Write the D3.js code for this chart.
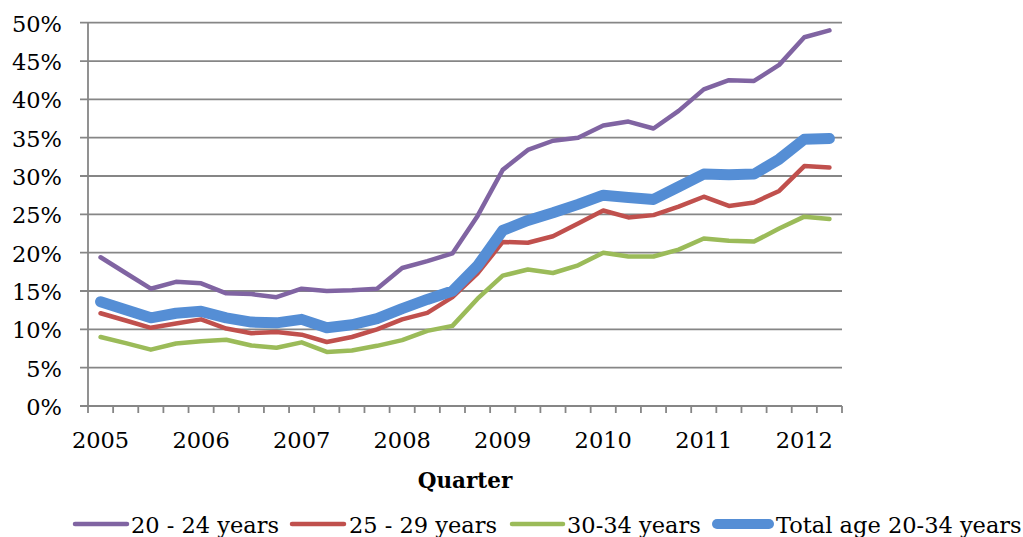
<!DOCTYPE html>
<html>
<head>
<meta charset="utf-8">
<script src="https://cdn.jsdelivr.net/npm/d3@7"></script>
<style>
  html, body { margin: 0; padding: 0; background: #fff; }
  svg { display: block; }
  text { font-family: "DejaVu Serif", "Liberation Serif", serif; fill: #000; }
</style>
</head>
<body>
<svg id="chart" width="1023" height="537"></svg>
<script>
const quarters = ["2005Q1","2005Q2","2005Q3","2005Q4","2006Q1","2006Q2","2006Q3","2006Q4",
  "2007Q1","2007Q2","2007Q3","2007Q4","2008Q1","2008Q2","2008Q3","2008Q4",
  "2009Q1","2009Q2","2009Q3","2009Q4","2010Q1","2010Q2","2010Q3","2010Q4",
  "2011Q1","2011Q2","2011Q3","2011Q4","2012Q1","2012Q2"];
const yearLabels = {"2005Q1":"2005","2006Q1":"2006","2007Q1":"2007","2008Q1":"2008",
  "2009Q1":"2009","2010Q1":"2010","2011Q1":"2011","2012Q1":"2012"};
const yTicks = [0,5,10,15,20,25,30,35,40,45,50];

const age2024 = [19.4,17.35,15.3,16.2,16.0,14.7,14.6,14.2,15.3,15.0,15.1,15.3,18.0,18.9,19.9,24.8,30.8,33.4,34.6,35.0,36.6,37.1,36.2,38.5,41.3,42.5,42.4,44.5,48.1,49.0];
const age2529 = [12.1,11.15,10.2,10.75,11.3,10.1,9.5,9.65,9.3,8.35,9.0,10.0,11.3,12.15,14.2,17.3,21.4,21.3,22.15,23.8,25.5,24.6,24.9,26.0,27.3,26.1,26.55,28.05,31.3,31.1];
const age3034 = [9.0,8.2,7.35,8.15,8.45,8.65,7.9,7.6,8.3,7.05,7.25,7.85,8.6,9.8,10.45,14.0,17.0,17.8,17.35,18.35,20.0,19.5,19.5,20.4,21.85,21.55,21.45,23.15,24.7,24.4];
const total2034 = [13.6,12.55,11.5,12.1,12.35,11.5,10.95,10.85,11.3,10.2,10.6,11.4,12.7,13.9,15.0,18.3,22.9,24.2,25.2,26.3,27.5,27.2,26.95,28.6,30.25,30.15,30.25,32.2,34.8,34.9];

const seriesNames = ["20 - 24 years","25 - 29 years","30-34 years","Total age 20-34 years"];
const seriesValues = [age2024, age2529, age3034, total2034];
const seriesColors = ["#8064A2","#C0504D","#9BBB59","#558ED5"];
const seriesWidths = [4.5, 4.5, 4.5, 11];

const svg = d3.select("#chart");
const plotLeft = 88, plotRight = 842, plotTop = 22.7, plotBottom = 406;
const fs = 22.5;

const x = d3.scaleBand().domain(quarters).range([plotLeft, plotRight]);
const y = d3.scaleLinear().domain([0, 50]).range([plotBottom, plotTop]);
const gridColor = "#868686";

// gridlines
svg.append("g").selectAll("line").data(yTicks).join("line")
  .attr("x1", plotLeft - 8).attr("x2", plotRight)
  .attr("y1", d => y(d)).attr("y2", d => y(d))
  .attr("stroke", gridColor).attr("stroke-width", 1.8);

// y axis line
svg.append("line").attr("x1", plotLeft).attr("x2", plotLeft).attr("y1", plotTop).attr("y2", plotBottom)
  .attr("stroke", gridColor).attr("stroke-width", 1.8);

// y labels
svg.append("g").selectAll("text").data(yTicks).join("text")
  .attr("x", 62).attr("y", d => y(d)).attr("dy", "0.4em")
  .attr("text-anchor", "end").attr("font-size", fs)
  .text(d => d + "%");

// x axis ticks (category boundaries)
const boundaries = quarters.map(q => x(q)).concat([plotRight]);
svg.append("g").selectAll("line").data(boundaries).join("line")
  .attr("x1", d => d).attr("x2", d => d).attr("y1", plotBottom).attr("y2", plotBottom + 7)
  .attr("stroke", gridColor).attr("stroke-width", 1.8);

// x labels
svg.append("g").selectAll("text").data(quarters.filter(q => yearLabels[q])).join("text")
  .attr("x", q => x(q) + x.bandwidth() / 2).attr("y", 448)
  .attr("text-anchor", "middle").attr("font-size", fs)
  .text(q => yearLabels[q]);

// axis title
svg.append("text").attr("x", 465).attr("y", 488).attr("text-anchor", "middle")
  .attr("font-size", 21.5).attr("font-weight", "bold").text("Quarter");

// lines
const line = d3.line().x((d, i) => x(quarters[i]) + x.bandwidth() / 2).y(d => y(d));
seriesValues.forEach((vals, k) => {
  svg.append("path").datum(vals)
    .attr("d", line).attr("fill", "none")
    .attr("stroke", seriesColors[k]).attr("stroke-width", seriesWidths[k])
    .attr("stroke-linejoin", "round").attr("stroke-linecap", "round");
});

// legend
const legendItems = [
  {lx: 75, lx2: 127, tx: 131},
  {lx: 292, lx2: 344, tx: 349},
  {lx: 512, lx2: 563, tx: 567},
  {lx: 717, lx2: 769, tx: 776}
];
seriesNames.forEach((name, k) => {
  const it = legendItems[k];
  svg.append("line").attr("x1", it.lx).attr("x2", it.lx2)
    .attr("y1", 524).attr("y2", 524)
    .attr("stroke", seriesColors[k]).attr("stroke-width", k === 3 ? 10 : 4.5)
    .attr("stroke-linecap", "round");
  svg.append("text").attr("x", it.tx).attr("y", 533).attr("font-size", fs)
    .text(name);
});
</script>
</body>
</html>
